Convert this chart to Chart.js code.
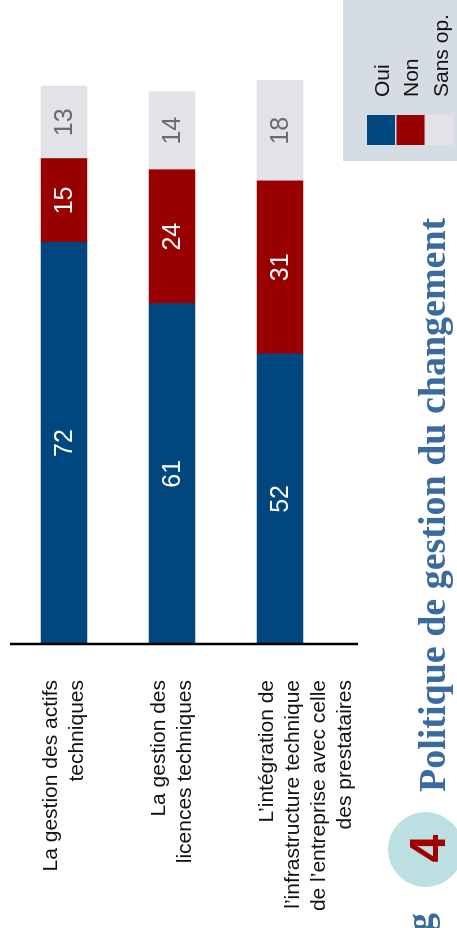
<!DOCTYPE html>
<html lang="fr">
<head>
<meta charset="utf-8">
<title>Politique de gestion du changement</title>
<script src="https://cdn.jsdelivr.net/npm/chart.js@4/dist/chart.umd.min.js"></script>
<style>
  html, body { margin: 0; padding: 0; background: #ffffff; overflow: hidden; }
  body { width: 457px; height: 928px; position: relative; }
  /* The figure is laid out landscape and turned a quarter turn to read bottom-to-top */
  #page {
    position: absolute; left: 0; top: 0;
    width: 928px; height: 457px;
    transform-origin: 0 0;
    transform: translate(0, 928px) rotate(-90deg);
  }
  canvas { display: block; }
</style>
</head>
<body>
<div id="page"><canvas id="chart" width="928" height="457"></canvas></div>
<script>
// Survey categories (each entry is the list of lines of its label)
const categories = [
  ["La gestion des actifs", "techniques"],
  ["La gestion des", "licences techniques"],
  ["L\u2019int\u00e9gration de", "l\u2019infrastructure technique", "de l\u2019entreprise avec celle", "des prestataires"]
];
// Answers, in %
const oui = [72, 61, 52];
const non = [15, 24, 31];
const sansOp = [13, 14, 18];
const seriesNames = ["Oui", "Non", "Sans op."];

const COLORS = ["#00477f", "#990000", "#e3e2e6"];
const VALUE_COLORS = ["#ffffff", "#ffffff", "#6b6b6b"];
const SANS = '"Liberation Sans", Arial, sans-serif';
const SERIF = '"Liberation Serif", "Times New Roman", serif';
const BAR = 46;

// Axis line on the left of the bars, running a little past the last bar
const axisLine = {
  id: 'axisLine',
  afterDatasetsDraw(chart) {
    const { ctx, chartArea } = chart;
    ctx.save();
    ctx.strokeStyle = '#000000';
    ctx.lineWidth = 2.5;
    ctx.beginPath();
    ctx.moveTo(chartArea.left, chartArea.top);
    ctx.lineTo(chartArea.left, chartArea.bottom + 24);
    ctx.stroke();
    ctx.restore();
  }
};

// Category labels, right-aligned and top-aligned with their bar
const categoryLabels = {
  id: 'categoryLabels',
  afterDraw(chart) {
    const { ctx, chartArea } = chart;
    const yScale = chart.scales.y;
    ctx.save();
    ctx.font = '21px ' + SANS;
    ctx.fillStyle = '#111111';
    ctx.textAlign = 'right';
    ctx.textBaseline = 'alphabetic';
    const right = chartArea.left - 36;
    categories.forEach((lines, i) => {
      const top = yScale.getPixelForValue(i) - BAR / 2;
      lines.forEach((line, j) => {
        ctx.fillText(line, right, top + 15.5 + j * 26);
      });
    });
    ctx.restore();
  }
};

// Value printed in the middle of each segment
const valueLabels = {
  id: 'valueLabels',
  afterDatasetsDraw(chart) {
    const { ctx } = chart;
    ctx.save();
    ctx.font = '25px ' + SANS;
    ctx.textAlign = 'center';
    ctx.textBaseline = 'middle';
    chart.data.datasets.forEach((ds, di) => {
      const meta = chart.getDatasetMeta(di);
      ctx.fillStyle = VALUE_COLORS[di];
      meta.data.forEach((bar, i) => {
        const p = bar.getProps(['x', 'y', 'base'], true);
        ctx.fillText(String(ds.data[i]), (p.x + p.base) / 2, p.y + 1);
      });
    });
    ctx.restore();
  }
};

// Legend panel and section heading
const decorations = {
  id: 'decorations',
  afterDraw(chart) {
    const { ctx } = chart;
    ctx.save();

    // legend panel
    ctx.fillStyle = '#d5dce4';
    ctx.fillRect(767, 343, 161, 114);
    chart.data.datasets.forEach((ds, i) => {
      const top = 367 + i * 29.5;
      ctx.fillStyle = ds.backgroundColor;
      ctx.fillRect(783, top, 30, 28);
      ctx.fillStyle = '#111111';
      ctx.font = '21px ' + SANS;
      ctx.textAlign = 'left';
      ctx.textBaseline = 'alphabetic';
      ctx.fillText(ds.label, 831, top + 21.5);
    });

    // heading number in its disc
    ctx.fillStyle = '#bcdfe2';
    ctx.beginPath();
    ctx.arc(78.5, 425.5, 37.5, 0, Math.PI * 2);
    ctx.fill();
    ctx.fillStyle = '#a00000';
    ctx.font = 'bold 50px ' + SANS;
    ctx.textAlign = 'center';
    ctx.textBaseline = 'alphabetic';
    ctx.fillText('4', 79.5, 445);

    // heading text
    ctx.fillStyle = '#3a6aa0';
    ctx.font = 'bold 38px ' + SERIF;
    ctx.textAlign = 'left';
    ctx.fillText('Politique de gestion du changement', 136, 445);
    ctx.textAlign = 'right';
    ctx.fillText('g', 15, 432);

    ctx.restore();
  }
};

new Chart(document.getElementById('chart'), {
  type: 'bar',
  data: {
    labels: categories,
    datasets: [
      { label: seriesNames[0], data: oui, backgroundColor: COLORS[0] },
      { label: seriesNames[1], data: non, backgroundColor: COLORS[1] },
      { label: seriesNames[2], data: sansOp, backgroundColor: COLORS[2] }
    ]
  },
  options: {
    indexAxis: 'y',
    responsive: false,
    animation: false,
    devicePixelRatio: 1,
    clip: false,
    datasets: { bar: { barThickness: BAR, borderWidth: 0, borderSkipped: false } },
    layout: { padding: { left: 284, right: 86, top: 10, bottom: 123 } },
    scales: {
      x: { stacked: true, min: 0, max: 100, display: false },
      y: { stacked: true, display: false }
    },
    plugins: {
      legend: { display: false },
      tooltip: { enabled: false },
      title: { display: false }
    }
  },
  plugins: [axisLine, valueLabels, categoryLabels, decorations]
});
</script>
</body>
</html>
